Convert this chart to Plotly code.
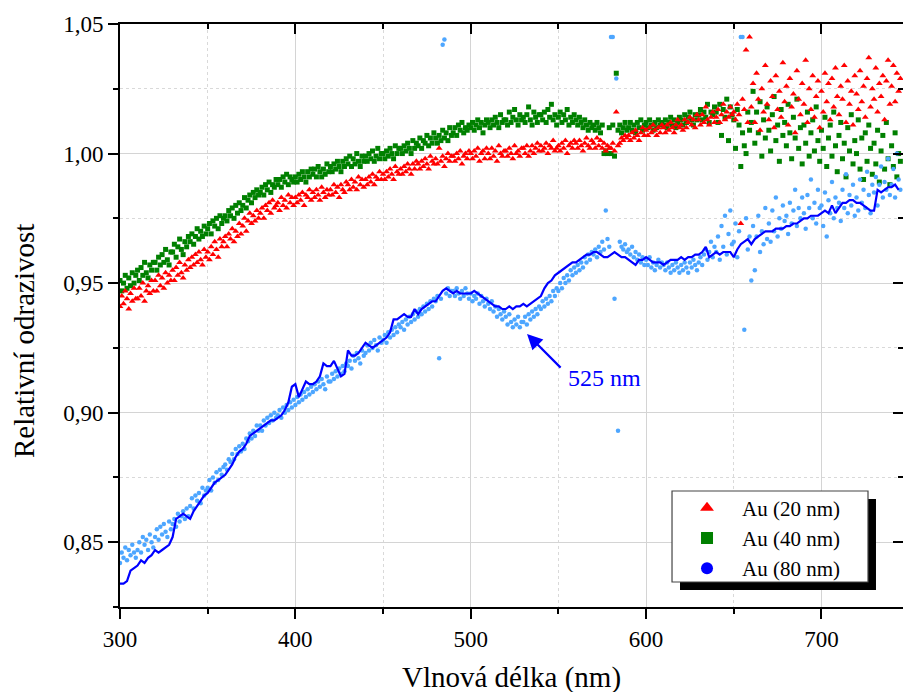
import plotly.graph_objects as go

# ---------------- data ----------------
wavelength = list(range(300, 746))          # nm, 1 nm grid of the scatter series
wavelength_line = list(range(300, 745, 2))  # nm, grid of the smoothed 80 nm curve

au20 = [
    0.941, 0.945, 0.942, 0.947, 0.944, 0.940, 0.946, 0.943, 0.948, 0.944,
    0.944, 0.948, 0.945, 0.950, 0.943, 0.947, 0.949, 0.946, 0.951, 0.947,
    0.951, 0.947, 0.953, 0.949, 0.952, 0.948, 0.954, 0.950, 0.953, 0.951,
    0.955, 0.951, 0.956, 0.953, 0.958, 0.954, 0.952, 0.957, 0.955, 0.959,
    0.956, 0.960, 0.957, 0.961, 0.958, 0.962, 0.959, 0.957, 0.963, 0.960,
    0.962, 0.959, 0.964, 0.961, 0.966, 0.963, 0.960, 0.967, 0.964, 0.966,
    0.968, 0.964, 0.969, 0.967, 0.971, 0.966, 0.970, 0.968, 0.973, 0.969,
    0.972, 0.975, 0.970, 0.974, 0.977, 0.973, 0.976, 0.974, 0.978, 0.975,
    0.977, 0.979, 0.975, 0.980, 0.978, 0.981, 0.977, 0.982, 0.979, 0.980,
    0.981, 0.978, 0.983, 0.980, 0.982, 0.979, 0.984, 0.981, 0.983, 0.980,
    0.983, 0.981, 0.984, 0.982, 0.985, 0.980, 0.984, 0.983, 0.986, 0.982,
    0.985, 0.983, 0.986, 0.984, 0.982, 0.987, 0.985, 0.983, 0.986, 0.984,
    0.986, 0.984, 0.988, 0.985, 0.987, 0.983, 0.988, 0.986, 0.985, 0.989,
    0.988, 0.986, 0.990, 0.987, 0.989, 0.986, 0.991, 0.988, 0.990, 0.987,
    0.990, 0.988, 0.991, 0.989, 0.992, 0.988, 0.991, 0.990, 0.993, 0.990,
    0.992, 0.990, 0.993, 0.991, 0.994, 0.992, 0.990, 0.995, 0.993, 0.992,
    0.994, 0.992, 0.995, 0.993, 0.996, 0.994, 0.992, 0.996, 0.994, 0.997,
    0.996, 0.994, 0.997, 0.995, 0.998, 0.996, 0.994, 0.999, 0.997, 0.996,
    0.998, 0.996, 1.002, 0.997, 0.999, 0.995, 0.998, 1.000, 0.997, 0.999,
    0.999, 0.997, 1.000, 0.998, 1.001, 0.996, 0.999, 1.000, 0.998, 1.001,
    1.000, 0.998, 1.001, 0.999, 1.002, 0.997, 1.000, 1.001, 0.998, 1.002,
    1.000, 0.998, 1.002, 0.999, 1.001, 0.997, 1.003, 1.000, 0.999, 1.001,
    1.001, 0.999, 1.002, 1.000, 0.998, 1.003, 1.000, 1.001, 0.999, 1.002,
    1.002, 1.000, 1.003, 0.999, 1.001, 1.003, 1.000, 1.002, 1.004, 1.001,
    1.003, 1.001, 1.002, 1.004, 1.000, 1.003, 1.002, 1.005, 1.001, 1.002,
    1.003, 1.001, 1.004, 1.002, 1.005, 1.000, 1.003, 1.004, 1.002, 1.005,
    1.004, 1.002, 1.005, 1.003, 1.001, 1.004, 1.006, 1.003, 1.002, 1.005,
    1.004, 1.002, 1.006, 1.003, 1.005, 1.002, 1.004, 1.001, 1.003, 1.002,
    1.002, 1.004, 1.001, 1.016, 1.003, 1.004, 1.006, 1.005, 1.007, 1.006,
    1.007, 1.005, 1.008, 1.006, 1.009, 1.007, 1.005, 1.008, 1.010, 1.007,
    1.009, 1.007, 1.010, 1.008, 1.011, 1.009, 1.007, 1.010, 1.008, 1.011,
    1.010, 1.008, 1.011, 1.009, 1.012, 1.010, 1.008, 1.011, 1.013, 1.010,
    1.011, 1.009, 1.013, 1.010, 1.012, 1.014, 1.011, 1.013, 1.010, 1.015,
    1.013, 1.011, 1.015, 1.012, 1.018, 1.013, 1.011, 1.014, 1.016, 1.012,
    1.014, 1.017, 1.012, 1.015, 1.019, 1.013, 1.016, 1.014, 1.018, 1.015,
    1.016, 1.013, 1.019, 1.015, 0.973, 1.021, 1.017, 1.040, 1.012, 1.045,
    1.018, 1.027, 1.012, 1.031, 1.021, 1.009, 1.025, 1.016, 1.034, 1.019,
    1.013, 1.028, 1.022, 1.010, 1.030, 1.017, 1.024, 1.014, 1.035, 1.020,
    1.026, 1.011, 1.029, 1.018, 1.023, 1.008, 1.032, 1.021, 1.015, 1.027,
    1.019, 1.036, 1.012, 1.025, 1.017, 1.030, 1.014, 1.022, 1.028, 1.010,
    1.024, 1.016, 1.031, 1.020, 1.027, 1.013, 1.029, 1.018, 1.033, 1.022,
    1.015, 1.026, 1.021, 1.034, 1.012, 1.028, 1.019, 1.024, 1.011, 1.030,
    1.023, 1.017, 1.032, 1.020, 1.026, 1.014, 1.029, 1.037, 1.018, 1.025,
    1.021, 1.033, 1.016, 1.027, 1.022, 1.030, 1.013, 1.028, 1.036, 1.019,
    1.026, 1.034, 1.020, 1.031, 1.024, 1.029,
]

au40 = [
    0.951, 0.947, 0.950, 0.953, 0.948, 0.952, 0.949, 0.954, 0.950, 0.953,
    0.955, 0.951, 0.956, 0.953, 0.958, 0.954, 0.952, 0.957, 0.955, 0.958,
    0.958, 0.955, 0.960, 0.957, 0.961, 0.958, 0.963, 0.959, 0.957, 0.962,
    0.962, 0.965, 0.960, 0.964, 0.967, 0.963, 0.961, 0.966, 0.964, 0.968,
    0.966, 0.969, 0.965, 0.968, 0.971, 0.967, 0.970, 0.968, 0.972, 0.969,
    0.971, 0.973, 0.969, 0.974, 0.972, 0.975, 0.971, 0.976, 0.973, 0.975,
    0.976, 0.974, 0.978, 0.976, 0.979, 0.975, 0.980, 0.977, 0.981, 0.978,
    0.980, 0.983, 0.979, 0.982, 0.984, 0.981, 0.985, 0.983, 0.986, 0.984,
    0.985, 0.987, 0.984, 0.988, 0.986, 0.989, 0.985, 0.988, 0.987, 0.990,
    0.988, 0.990, 0.987, 0.991, 0.989, 0.992, 0.988, 0.991, 0.990, 0.989,
    0.991, 0.989, 0.992, 0.990, 0.993, 0.991, 0.989, 0.993, 0.991, 0.994,
    0.992, 0.994, 0.991, 0.995, 0.993, 0.991, 0.994, 0.992, 0.996, 0.993,
    0.995, 0.993, 0.996, 0.994, 0.997, 0.995, 0.993, 0.997, 0.995, 0.998,
    0.996, 0.999, 0.995, 0.998, 0.996, 1.000, 0.997, 0.995, 0.999, 0.997,
    0.999, 0.997, 1.000, 0.998, 1.001, 0.997, 0.999, 1.002, 0.998, 1.000,
    1.000, 0.998, 1.001, 0.999, 1.002, 1.000, 0.998, 1.003, 1.000, 1.002,
    1.002, 1.000, 1.003, 1.001, 1.004, 1.002, 1.000, 1.005, 1.002, 1.004,
    1.003, 1.006, 1.002, 1.005, 1.004, 1.007, 1.003, 1.006, 1.004, 1.008,
    1.006, 1.004, 1.007, 1.005, 1.009, 1.006, 1.008, 1.005, 1.010, 1.007,
    1.008, 1.010, 1.007, 1.011, 1.009, 1.012, 1.008, 1.010, 1.009, 1.011,
    1.010, 1.012, 1.009, 1.011, 1.013, 1.010, 1.012, 1.008, 1.011, 1.013,
    1.012, 1.010, 1.013, 1.011, 1.014, 1.012, 1.010, 1.015, 1.012, 1.013,
    1.013, 1.011, 1.016, 1.012, 1.014, 1.017, 1.013, 1.011, 1.015, 1.013,
    1.014, 1.012, 1.015, 1.018, 1.013, 1.011, 1.016, 1.014, 1.012, 1.015,
    1.015, 1.013, 1.016, 1.012, 1.017, 1.014, 1.019, 1.013, 1.015, 1.011,
    1.014, 1.016, 1.012, 1.015, 1.013, 1.017, 1.011, 1.014, 1.012, 1.015,
    1.013, 1.011, 1.014, 1.012, 1.010, 1.013, 1.011, 1.009, 1.012, 1.010,
    1.011, 1.009, 1.012, 1.010, 1.008, 1.011, 1.000, 1.001, 1.000, 1.010,
    1.000, 1.011, 0.999, 1.031, 1.009, 1.011, 1.008, 1.010, 1.012, 1.009,
    1.010, 1.012, 1.009, 1.011, 1.008, 1.012, 1.010, 1.013, 1.009, 1.011,
    1.012, 1.010, 1.013, 1.011, 1.009, 1.012, 1.010, 1.013, 1.011, 1.012,
    1.011, 1.013, 1.010, 1.012, 1.014, 1.011, 1.013, 1.010, 1.012, 1.014,
    1.013, 1.011, 1.015, 1.012, 1.014, 1.016, 1.013, 1.011, 1.015, 1.013,
    1.015, 1.017, 1.013, 1.016, 1.014, 1.019, 1.012, 1.016, 1.015, 1.018,
    1.016, 1.012, 1.019, 1.007, 1.017, 1.014, 1.021, 1.005, 1.018, 1.015,
    1.013, 1.002, 1.017, 1.011, 0.995, 1.008, 1.003, 1.000, 1.016, 1.009,
    1.012, 1.024, 1.004, 1.016, 1.008, 1.020, 0.999, 1.013, 1.006, 1.018,
    1.009, 1.001, 1.015, 1.022, 1.005, 1.011, 0.997, 1.017, 1.007, 1.012,
    1.003, 1.019, 1.008, 0.998, 1.014, 1.006, 1.021, 1.002, 1.010, 0.996,
    1.011, 1.004, 1.016, 0.999, 1.008, 1.013, 1.001, 1.018, 1.005, 0.997,
    1.009, 1.002, 1.014, 0.995, 1.006, 1.011, 0.999, 1.016, 1.003, 0.993,
    1.007, 1.012, 0.998, 1.004, 0.991, 1.010, 1.001, 1.015, 0.996, 1.005,
    1.000, 1.013, 0.994, 1.006, 0.990, 1.008, 0.997, 1.011, 1.002, 0.992,
    1.004, 0.996, 1.009, 0.989, 1.001, 1.007, 0.994, 1.012, 0.998, 0.988,
    1.003, 0.995, 1.008, 0.991, 1.000, 0.997,
]

au80 = [
    0.842, 0.846, 0.844, 0.848, 0.843, 0.847, 0.845, 0.849, 0.846, 0.844,
    0.847, 0.850, 0.846, 0.852, 0.849, 0.851, 0.847, 0.853, 0.850, 0.848,
    0.852, 0.855, 0.851, 0.856, 0.853, 0.857, 0.854, 0.852, 0.858, 0.855,
    0.857, 0.859, 0.856, 0.861, 0.858, 0.860, 0.862, 0.859, 0.863, 0.860,
    0.864, 0.867, 0.863, 0.868, 0.866, 0.869, 0.865, 0.871, 0.868, 0.870,
    0.871, 0.874, 0.870, 0.875, 0.873, 0.877, 0.874, 0.878, 0.876, 0.879,
    0.880, 0.878, 0.882, 0.881, 0.884, 0.882, 0.886, 0.884, 0.887, 0.885,
    0.888, 0.886, 0.890, 0.889, 0.892, 0.890, 0.893, 0.891, 0.895, 0.893,
    0.895, 0.893, 0.897, 0.895, 0.898, 0.896, 0.899, 0.897, 0.900, 0.898,
    0.899, 0.901, 0.898, 0.902, 0.900, 0.903, 0.901, 0.904, 0.902, 0.905,
    0.903, 0.906, 0.904, 0.907, 0.905, 0.908, 0.906, 0.909, 0.907, 0.910,
    0.908, 0.911, 0.909, 0.912, 0.910, 0.913, 0.911, 0.909, 0.914, 0.912,
    0.912, 0.915, 0.913, 0.916, 0.914, 0.917, 0.915, 0.918, 0.916, 0.919,
    0.918, 0.920, 0.917, 0.922, 0.920, 0.923, 0.921, 0.919, 0.924, 0.922,
    0.923, 0.926, 0.924, 0.927, 0.925, 0.928, 0.926, 0.924, 0.929, 0.927,
    0.928, 0.930, 0.927, 0.931, 0.929, 0.932, 0.930, 0.933, 0.931, 0.934,
    0.933, 0.935, 0.932, 0.936, 0.934, 0.937, 0.935, 0.938, 0.936, 0.939,
    0.937, 0.940, 0.938, 0.941, 0.939, 0.942, 0.940, 0.943, 0.941, 0.944,
    0.943, 0.945, 0.921, 0.944, 1.042, 1.044, 0.946, 0.948, 0.945, 0.947,
    0.947, 0.945, 0.948, 0.946, 0.944, 0.947, 0.945, 0.948, 0.946, 0.944,
    0.946, 0.943, 0.945, 0.944, 0.946, 0.942, 0.945, 0.943, 0.941, 0.944,
    0.942, 0.940, 0.943, 0.939, 0.941, 0.937, 0.940, 0.938, 0.936, 0.939,
    0.937, 0.934, 0.938, 0.935, 0.933, 0.936, 0.934, 0.937, 0.933, 0.935,
    0.935, 0.937, 0.934, 0.938, 0.936, 0.939, 0.937, 0.940, 0.938, 0.941,
    0.940, 0.943, 0.941, 0.944, 0.942, 0.945, 0.943, 0.947, 0.945, 0.948,
    0.947, 0.950, 0.948, 0.952, 0.950, 0.953, 0.951, 0.955, 0.953, 0.956,
    0.954, 0.957, 0.955, 0.958, 0.956, 0.960, 0.958, 0.961, 0.959, 0.962,
    0.961, 0.963, 0.960, 0.964, 0.962, 0.966, 0.963, 0.978, 0.967, 0.964,
    1.045, 1.045, 0.944, 1.029, 0.893, 0.966, 0.964, 0.963, 0.965, 0.962,
    0.963, 0.961, 0.964, 0.960, 0.962, 0.959, 0.961, 0.958, 0.960, 0.957,
    0.959, 0.957, 0.960, 0.956, 0.958, 0.955, 0.957, 0.959, 0.956, 0.958,
    0.957, 0.955, 0.958, 0.956, 0.954, 0.957, 0.955, 0.958, 0.956, 0.954,
    0.957, 0.955, 0.958, 0.956, 0.954, 0.958, 0.956, 0.959, 0.957, 0.955,
    0.958, 0.960, 0.957, 0.961, 0.963, 0.959, 0.962, 0.966, 0.960, 0.964,
    0.962, 0.968, 0.959, 0.972, 0.964, 0.976, 0.961, 0.969, 0.978, 0.965,
    0.966, 0.973, 0.960, 0.970, 1.045, 1.045, 0.932, 0.975, 0.963, 0.968,
    0.951, 0.972, 0.955, 0.968, 0.976, 0.962, 0.970, 0.965, 0.979, 0.967,
    0.973, 0.966, 0.978, 0.970, 0.983, 0.968, 0.975, 0.971, 0.980, 0.974,
    0.976, 0.969, 0.981, 0.973, 0.978, 0.986, 0.972, 0.979, 0.975, 0.983,
    0.977, 0.971, 0.984, 0.979, 0.990, 0.975, 0.981, 0.973, 0.986, 0.979,
    0.980, 0.972, 0.985, 0.968, 0.982, 0.977, 0.989, 0.975, 0.983, 0.979,
    0.981, 0.974, 0.986, 0.979, 0.992, 0.977, 0.984, 0.980, 0.988, 0.976,
    0.983, 0.978, 0.990, 0.981, 0.986, 0.979, 0.993, 0.984, 0.977, 0.988,
    0.985, 0.991, 0.980, 0.988, 0.995, 0.983, 0.989, 0.986, 0.998, 0.984,
    0.988, 0.994, 0.983, 1.000, 0.990, 0.986,
]

au80_smoothed = [
    0.834, 0.834, 0.835, 0.839, 0.840, 0.841, 0.843, 0.842, 0.844, 0.845,
    0.847, 0.846, 0.847, 0.848, 0.849, 0.852, 0.859, 0.860, 0.861, 0.860,
    0.859, 0.862, 0.864, 0.866, 0.868, 0.869, 0.871, 0.873, 0.874, 0.875,
    0.876, 0.878, 0.880, 0.883, 0.885, 0.886, 0.888, 0.891, 0.892, 0.893,
    0.894, 0.895, 0.896, 0.897, 0.897, 0.898, 0.899, 0.901, 0.904, 0.910,
    0.911, 0.906, 0.909, 0.912, 0.911, 0.911, 0.912, 0.914, 0.919, 0.918,
    0.918, 0.920, 0.917, 0.914, 0.915, 0.924, 0.922, 0.922, 0.923, 0.925,
    0.927, 0.926, 0.925, 0.926, 0.927, 0.928, 0.929, 0.931, 0.936, 0.936,
    0.937, 0.938, 0.937, 0.937, 0.940, 0.938, 0.940, 0.941, 0.942, 0.943,
    0.943, 0.945, 0.947, 0.948, 0.947, 0.946, 0.947, 0.946, 0.946, 0.946,
    0.946, 0.947, 0.946, 0.945, 0.944, 0.943, 0.942, 0.941, 0.941, 0.940,
    0.940, 0.941, 0.940, 0.941, 0.941, 0.942, 0.941, 0.942, 0.943, 0.944,
    0.945, 0.948, 0.950, 0.951, 0.953, 0.954, 0.955, 0.956, 0.957, 0.958,
    0.958, 0.959, 0.960, 0.961, 0.961, 0.962, 0.962, 0.961, 0.960, 0.960,
    0.961, 0.962, 0.961, 0.960, 0.960, 0.959, 0.958, 0.957, 0.959, 0.959,
    0.960, 0.959, 0.958, 0.958, 0.958, 0.957, 0.958, 0.959, 0.959, 0.959,
    0.960, 0.959, 0.960, 0.960, 0.961, 0.961, 0.962, 0.964, 0.960, 0.961,
    0.962, 0.961, 0.962, 0.962, 0.962, 0.960, 0.963, 0.965, 0.966, 0.967,
    0.965, 0.967, 0.968, 0.969, 0.970, 0.970, 0.970, 0.971, 0.971, 0.971,
    0.972, 0.972, 0.973, 0.973, 0.974, 0.975, 0.975, 0.976, 0.976, 0.976,
    0.977, 0.978, 0.977, 0.980, 0.977, 0.979, 0.981, 0.981, 0.982, 0.982,
    0.981, 0.981, 0.980, 0.979, 0.978, 0.978, 0.986, 0.985, 0.986, 0.987,
    0.987, 0.988, 0.986,
]

series_names = ["Au (20 nm)", "Au (40 nm)", "Au (80 nm)"]
x_title = "Vlnová délka (nm)"
y_title = "Relativní odrazivost"
x_range = [300, 746.5]
y_range = [0.825, 1.05]
peak_label = "525 nm"

# ---------------- styling ----------------
FONT = "'Liberation Serif', 'DejaVu Serif', serif"
RED, GREEN, LIGHTBLUE, BLUE = "#ff0000", "#008000", "#4da6ff", "#0000ff"

fig = go.Figure()

fig.add_trace(go.Scatter(x=wavelength, y=au40, mode="markers", showlegend=False,
                         marker=dict(symbol="square", size=5, color=GREEN)))
fig.add_trace(go.Scatter(x=wavelength, y=au20, mode="markers", showlegend=False,
                         marker=dict(symbol="triangle-up", size=6, color=RED)))
fig.add_trace(go.Scatter(x=wavelength, y=au80, mode="markers", showlegend=False,
                         marker=dict(symbol="circle", size=4.5, color=LIGHTBLUE)))
fig.add_trace(go.Scatter(x=wavelength_line, y=au80_smoothed, mode="lines", showlegend=False,
                         line=dict(color=BLUE, width=2.2)))

# legend-only entries (larger symbols, as in the reference legend)
for name, sym, col in zip(series_names, ["triangle-up", "square", "circle"], [RED, GREEN, BLUE]):
    fig.add_trace(go.Scatter(x=[None], y=[None], mode="markers", name=name,
                             marker=dict(symbol=sym, size=12, color=col)))

# helper trace for the mirrored (top/right) axes with inward ticks
fig.add_trace(go.Scatter(x=[None], y=[None], xaxis="x2", yaxis="y2",
                         mode="markers", showlegend=False, hoverinfo="skip"))

axis_common = dict(showline=True, linewidth=2, linecolor="black", zeroline=False,
                   tickwidth=2, tickcolor="black", ticklen=10)
minor_grid = dict(showgrid=True, gridcolor="#d9d9d9", griddash="3px,3px", gridwidth=1)

fig.update_layout(
    width=903, height=692,
    margin=dict(l=120, r=0, t=24, b=85),
    separators=", ",
    font=dict(family=FONT, size=23, color="black"),
    plot_bgcolor="white", paper_bgcolor="white",
    xaxis=dict(**axis_common, range=x_range, ticks="outside", tick0=300, dtick=100,
               showgrid=True, gridcolor="#d4d4d4", gridwidth=1.3,
               minor=dict(dtick=50, ticks="outside", ticklen=5, tickwidth=2, tickcolor="black",
                          **minor_grid),
               tickfont=dict(size=23)),
    yaxis=dict(**axis_common, range=y_range, ticks="outside", tick0=0.85, dtick=0.05,
               tickformat=".2f",
               showgrid=True, gridcolor="#d4d4d4", gridwidth=1.3,
               minor=dict(dtick=0.025, ticks="outside", ticklen=5, tickwidth=2, tickcolor="black",
                          **minor_grid),
               tickfont=dict(size=23)),
    xaxis2=dict(**axis_common, range=x_range, overlaying="x", side="top", anchor="y",
                ticks="inside", tick0=300, dtick=100, showticklabels=False, showgrid=False,
                minor=dict(dtick=50, ticks="inside", ticklen=5, tickwidth=2, tickcolor="black")),
    yaxis2=dict(**axis_common, range=y_range, overlaying="y", side="right", anchor="x",
                ticks="inside", tick0=0.85, dtick=0.05, showticklabels=False, showgrid=False,
                minor=dict(dtick=0.025, ticks="inside", ticklen=5, tickwidth=2, tickcolor="black")),
    legend=dict(x=0.705, y=0.205, xanchor="left", yanchor="top",
                bgcolor="rgba(0,0,0,0)", borderwidth=0, itemwidth=60,
                font=dict(size=21), tracegroupgap=0),
    shapes=[
        dict(type="rect", xref="paper", yref="paper", x0=0.7152, x1=0.9655, y0=0.0292, y1=0.1852,
             fillcolor="black", line=dict(width=0), layer="above"),
        dict(type="rect", xref="paper", yref="paper", x0=0.7050, x1=0.9553, y0=0.0429, y1=0.1990,
             fillcolor="white", line=dict(color="#444444", width=1.2), layer="above"),
    ],
    annotations=[
        # axis titles
        dict(x=0.5, y=-0.1201, xref="paper", yref="paper", text=x_title, showarrow=False,
             xanchor="center", yanchor="middle", font=dict(size=29, family=FONT)),
        dict(x=-0.1225, y=0.4563, xref="paper", yref="paper", text=y_title, showarrow=False,
             textangle=-90, xanchor="center", yanchor="middle", font=dict(size=29, family=FONT)),
        # peak marker
        dict(x=532.1, y=0.9304, xref="x", yref="y", ax=552.1, ay=0.9168, axref="x", ayref="y",
             text="", showarrow=True, arrowhead=2, arrowsize=1.4, arrowwidth=2.2,
             arrowcolor=BLUE, standoff=0),
        dict(x=576.4, y=0.9133, xref="x", yref="y", text=peak_label, showarrow=False,
             font=dict(size=24, color=BLUE, family=FONT)),
    ],
)

fig.write_html("out.html")
